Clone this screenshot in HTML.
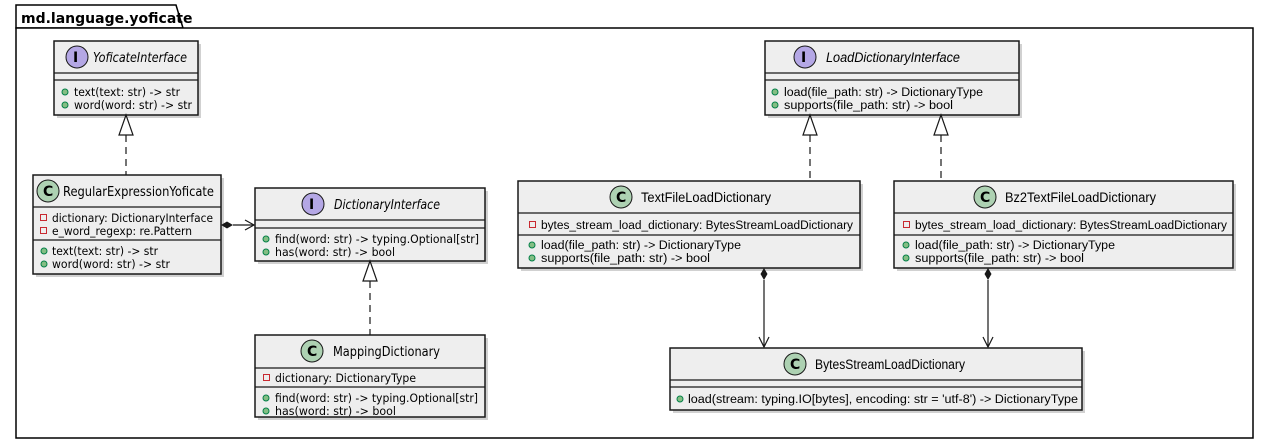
<!DOCTYPE html>
<html><head><meta charset="utf-8"><style>
html,body{margin:0;padding:0;background:#fff;width:1266px;height:444px;overflow:hidden}
svg{display:block}
text{font-family:"DejaVu Sans","Liberation Sans",sans-serif;fill:#000}
.m{font-size:11.5px}
.h{font-size:13.5px}
.r{font-family:"Liberation Sans",sans-serif}
.box{fill:#eeeeee;stroke:#181818;stroke-width:1.5}
.sh{fill:#000;opacity:.18}
.ln{stroke:#181818;stroke-width:1.2;fill:none}
.ic{stroke:#181818;stroke-width:1}
.pub{fill:#84BE84;stroke:#038048;stroke-width:1}
.prv{fill:none;stroke:#C82930;stroke-width:1}
</style></head><body>
<svg width="1266" height="444" viewBox="0 0 1266 444" xmlns="http://www.w3.org/2000/svg">
<path d="M16 28 L16 5 L176 5 L183 28 Z" fill="#fff" stroke="#000" stroke-width="1.5"/>
<rect x="16" y="28" width="1237" height="410" fill="#fff" stroke="#000" stroke-width="1.5"/>
<text x="21" y="23" style="font-size:14px;font-weight:bold">md.language.yoficate</text>

<!-- YoficateInterface -->
<rect class="sh" x="57" y="44" width="144" height="74"/>
<rect class="box" x="54" y="41" width="144" height="74"/>
<line class="ln" x1="54" y1="73" x2="198" y2="73"/><line class="ln" x1="54" y1="80" x2="198" y2="80"/>
<circle class="ic" cx="77" cy="57" r="11" fill="#B4A7E5"/><text x="73" y="62" style="font-size:14px;font-weight:bold">I</text>
<text class="h" x="93" y="62" font-style="italic" textLength="94" lengthAdjust="spacingAndGlyphs">YoficateInterface</text>
<circle class="pub" cx="65" cy="92" r="3"/><text class="m" x="74" y="96" textLength="106" lengthAdjust="spacingAndGlyphs">text(text: str) -&gt; str</text>
<circle class="pub" cx="65" cy="105" r="3"/><text class="m" x="74" y="109" textLength="118" lengthAdjust="spacingAndGlyphs">word(word: str) -&gt; str</text>

<!-- RegularExpressionYoficate -->
<rect class="sh" x="36" y="178" width="188" height="99"/>
<rect class="box" x="33" y="175" width="188" height="99"/>
<line class="ln" x1="33" y1="207" x2="221" y2="207"/><line class="ln" x1="33" y1="240" x2="221" y2="240"/>
<circle class="ic" cx="48" cy="191" r="11" fill="#ADD1B2"/><text x="43" y="196" style="font-size:14px;font-weight:bold">C</text>
<text class="h" x="63" y="196" textLength="151" lengthAdjust="spacingAndGlyphs">RegularExpressionYoficate</text>
<rect class="prv" x="40.5" y="214.5" width="6" height="6"/><text class="m" x="52" y="222" textLength="161" lengthAdjust="spacingAndGlyphs">dictionary: DictionaryInterface</text>
<rect class="prv" x="40.5" y="227.5" width="6" height="6"/><text class="m" x="52" y="235" textLength="140" lengthAdjust="spacingAndGlyphs">e_word_regexp: re.Pattern</text>
<circle class="pub" cx="44" cy="251" r="3"/><text class="m" x="52" y="255" textLength="106" lengthAdjust="spacingAndGlyphs">text(text: str) -&gt; str</text>
<circle class="pub" cx="44" cy="264" r="3"/><text class="m" x="52" y="268" textLength="118" lengthAdjust="spacingAndGlyphs">word(word: str) -&gt; str</text>

<!-- DictionaryInterface -->
<rect class="sh" x="258" y="191" width="230" height="73"/>
<rect class="box" x="255" y="188" width="230" height="73"/>
<line class="ln" x1="255" y1="220" x2="485" y2="220"/><line class="ln" x1="255" y1="228" x2="485" y2="228"/>
<circle class="ic" cx="313" cy="204" r="11" fill="#B4A7E5"/><text x="309" y="209" style="font-size:14px;font-weight:bold">I</text>
<text class="h" x="334" y="209" font-style="italic" textLength="106" lengthAdjust="spacingAndGlyphs">DictionaryInterface</text>
<circle class="pub" cx="266" cy="239" r="3"/><text class="m" x="275" y="243" textLength="204" lengthAdjust="spacingAndGlyphs">find(word: str) -&gt; typing.Optional[str]</text>
<circle class="pub" cx="266" cy="252" r="3"/><text class="m" x="275" y="256" textLength="120" lengthAdjust="spacingAndGlyphs">has(word: str) -&gt; bool</text>

<!-- MappingDictionary -->
<rect class="sh" x="258" y="338" width="230" height="82"/>
<rect class="box" x="255" y="335" width="230" height="82"/>
<line class="ln" x1="255" y1="368" x2="485" y2="368"/><line class="ln" x1="255" y1="387" x2="485" y2="387"/>
<circle class="ic" cx="312" cy="351" r="11" fill="#ADD1B2"/><text x="307" y="356" style="font-size:14px;font-weight:bold">C</text>
<text class="h" x="333" y="356" textLength="107" lengthAdjust="spacingAndGlyphs">MappingDictionary</text>
<rect class="prv" x="263.5" y="374.5" width="6" height="6"/><text class="m" x="275" y="382" textLength="141" lengthAdjust="spacingAndGlyphs">dictionary: DictionaryType</text>
<circle class="pub" cx="266" cy="398" r="3"/><text class="m" x="275" y="402" textLength="203" lengthAdjust="spacingAndGlyphs">find(word: str) -&gt; typing.Optional[str]</text>
<circle class="pub" cx="266" cy="411" r="3"/><text class="m" x="275" y="415" textLength="121" lengthAdjust="spacingAndGlyphs">has(word: str) -&gt; bool</text>

<!-- LoadDictionaryInterface -->
<rect class="sh" x="768" y="44" width="254" height="74"/>
<rect class="box" x="765" y="41" width="254" height="74"/>
<line class="ln" x1="765" y1="73" x2="1019" y2="73"/><line class="ln" x1="765" y1="80" x2="1019" y2="80"/>
<circle class="ic" cx="805" cy="57" r="11" fill="#B4A7E5"/><text x="801" y="62" style="font-size:14px;font-weight:bold">I</text>
<text class="h r" x="826" y="62" font-style="italic" textLength="134" lengthAdjust="spacingAndGlyphs">LoadDictionaryInterface</text>
<circle class="pub" cx="775" cy="92" r="3"/><text class="m r" x="784" y="96" textLength="199" lengthAdjust="spacingAndGlyphs">load(file_path: str) -&gt; DictionaryType</text>
<circle class="pub" cx="775" cy="105" r="3"/><text class="m r" x="784" y="109" textLength="169" lengthAdjust="spacingAndGlyphs">supports(file_path: str) -&gt; bool</text>

<!-- TextFileLoadDictionary -->
<rect class="sh" x="521" y="184" width="342" height="87"/>
<rect class="box" x="518" y="181" width="342" height="87"/>
<line class="ln" x1="518" y1="213" x2="860" y2="213"/><line class="ln" x1="518" y1="235" x2="860" y2="235"/>
<circle class="ic" cx="621" cy="197" r="11" fill="#ADD1B2"/><text x="616" y="202" style="font-size:14px;font-weight:bold">C</text>
<text class="h r" x="641" y="202" textLength="130" lengthAdjust="spacingAndGlyphs">TextFileLoadDictionary</text>
<rect class="prv" x="529.5" y="221.5" width="6" height="6"/><text class="m r" x="541" y="229" textLength="312" lengthAdjust="spacingAndGlyphs">bytes_stream_load_dictionary: BytesStreamLoadDictionary</text>
<circle class="pub" cx="532" cy="245" r="3"/><text class="m r" x="541" y="249" textLength="200" lengthAdjust="spacingAndGlyphs">load(file_path: str) -&gt; DictionaryType</text>
<circle class="pub" cx="532" cy="258" r="3"/><text class="m r" x="541" y="262" textLength="169" lengthAdjust="spacingAndGlyphs">supports(file_path: str) -&gt; bool</text>

<!-- Bz2TextFileLoadDictionary -->
<rect class="sh" x="897" y="184" width="339" height="87"/>
<rect class="box" x="894" y="181" width="339" height="87"/>
<line class="ln" x1="894" y1="213" x2="1233" y2="213"/><line class="ln" x1="894" y1="235" x2="1233" y2="235"/>
<circle class="ic" cx="985" cy="197" r="11" fill="#ADD1B2"/><text x="980" y="202" style="font-size:14px;font-weight:bold">C</text>
<text class="h r" x="1005" y="202" textLength="151" lengthAdjust="spacingAndGlyphs">Bz2TextFileLoadDictionary</text>
<rect class="prv" x="903.5" y="221.5" width="6" height="6"/><text class="m r" x="915" y="229" textLength="312" lengthAdjust="spacingAndGlyphs">bytes_stream_load_dictionary: BytesStreamLoadDictionary</text>
<circle class="pub" cx="906" cy="245" r="3"/><text class="m r" x="915" y="249" textLength="200" lengthAdjust="spacingAndGlyphs">load(file_path: str) -&gt; DictionaryType</text>
<circle class="pub" cx="906" cy="258" r="3"/><text class="m r" x="915" y="262" textLength="169" lengthAdjust="spacingAndGlyphs">supports(file_path: str) -&gt; bool</text>

<!-- BytesStreamLoadDictionary -->
<rect class="sh" x="673" y="351" width="412" height="62"/>
<rect class="box" x="670" y="348" width="412" height="62"/>
<line class="ln" x1="670" y1="380" x2="1082" y2="380"/><line class="ln" x1="670" y1="387" x2="1082" y2="387"/>
<circle class="ic" cx="795" cy="364" r="11" fill="#ADD1B2"/><text x="790" y="369" style="font-size:14px;font-weight:bold">C</text>
<text class="h r" x="815" y="369" textLength="150" lengthAdjust="spacingAndGlyphs">BytesStreamLoadDictionary</text>
<circle class="pub" cx="680" cy="399" r="3"/><text class="m r" x="688" y="403" textLength="390" lengthAdjust="spacingAndGlyphs">load(stream: typing.IO[bytes], encoding: str = 'utf-8') -&gt; DictionaryType</text>

<!-- realizations -->
<g class="ln" stroke-dasharray="7,5">
<line x1="126" y1="135" x2="126" y2="175"/>
<line x1="370" y1="281" x2="370" y2="335"/>
<line x1="810" y1="135" x2="810" y2="181"/>
<line x1="941" y1="135" x2="941" y2="181"/>
</g>
<g fill="#fff" stroke="#181818" stroke-width="1.2">
<polygon points="126,115 119,135 133,135"/>
<polygon points="370,261 363,281 377,281"/>
<polygon points="810,115 803,135 817,135"/>
<polygon points="941,115 934,135 948,135"/>
</g>

<!-- compositions -->
<line class="ln" x1="233" y1="225" x2="254" y2="225"/>
<polygon points="221,225 227,221.5 233,225 227,228.5" fill="#181818"/>
<path class="ln" d="M245,220 L254,225 L245,230"/>

<line class="ln" x1="764" y1="280" x2="764" y2="347"/>
<polygon points="764,268 767.5,274 764,280 760.5,274" fill="#181818"/>
<path class="ln" d="M759,337 L764,347 L769,337"/>

<line class="ln" x1="988" y1="280" x2="988" y2="347"/>
<polygon points="988,268 991.5,274 988,280 984.5,274" fill="#181818"/>
<path class="ln" d="M983,337 L988,347 L993,337"/>
</svg>
</body></html>
